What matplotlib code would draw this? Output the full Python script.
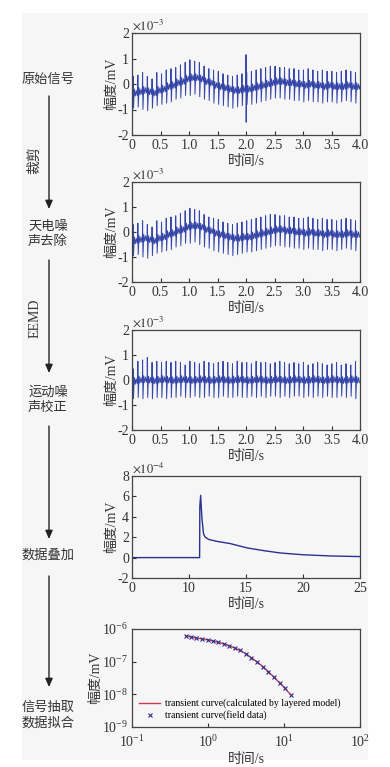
import numpy as np
import matplotlib
matplotlib.use("Agg")
import matplotlib.pyplot as plt
from matplotlib.patches import FancyArrowPatch, Rectangle

plt.rcParams['font.family'] = ['Liberation Serif', 'Noto Sans CJK SC', 'DejaVu Sans']
plt.rcParams['axes.unicode_minus'] = False
plt.rcParams['mathtext.fontset'] = 'stix'

# ---- data (amplitudes in units of 1e-3 mV for the first three panels) ----
spike_t0 = 0.02          # first spike time (s)
spike_period = 0.083     # spike spacing (s)

# raw signal: baseline, spike top, spike bottom for each spike
base1 = [-0.35, -0.30, -0.25, -0.30, -0.35, -0.25, -0.20, -0.10, -0.05, 0.05, 0.10, 0.20,
         0.25, 0.25, 0.20, 0.10, 0.05, -0.05, -0.10, -0.15, -0.20, -0.25, -0.25, -0.20,
         -0.20, -0.15, -0.10, -0.05, 0.00, 0.05, 0.10, 0.10, 0.05, 0.05, 0.00, 0.00,
         -0.05, 0.00, -0.05, -0.05, -0.10, -0.05, -0.10, -0.10, -0.10, -0.05, -0.10, -0.10]
top1 = [0.30, 0.35, 0.45, 0.30, 0.20, 0.45, 0.40, 0.55, 0.60, 0.65, 0.75, 0.85,
        0.95, 0.90, 0.85, 0.70, 0.60, 0.55, 0.50, 0.40, 0.35, 0.30, 0.35, 0.40,
        0.45, 0.50, 0.55, 0.60, 0.65, 0.70, 0.70, 0.65, 0.65, 0.60, 0.60, 0.55,
        0.55, 0.60, 0.55, 0.50, 0.55, 0.50, 0.50, 0.45, 0.50, 0.55, 0.50, 0.45]
bottom1 = [-0.95, -0.90, -1.00, -1.05, -0.95, -0.85, -0.80, -0.75, -0.70, -0.60, -0.55, -0.45,
           -0.45, -0.40, -0.50, -0.60, -0.65, -0.75, -0.80, -0.85, -0.90, -0.95, -0.90, -0.85,
           -0.80, -0.80, -0.75, -0.70, -0.65, -0.60, -0.55, -0.55, -0.60, -0.60, -0.65, -0.65,
           -0.70, -0.65, -0.70, -0.70, -0.75, -0.70, -0.70, -0.75, -0.70, -0.65, -0.70, -0.75]
sferic_t = 2.0
sferic_top = 1.15
sferic_bottom = -1.50

# motion-noise corrected signal
base3 = [-0.05, 0.00, 0.02, 0.00, -0.03, 0.00, 0.02, 0.00, -0.02, 0.00, 0.02, 0.00,
         -0.02, 0.00, 0.02, 0.00, -0.02, 0.00, 0.02, 0.00, -0.02, 0.00, 0.02, 0.00,
         -0.02, 0.00, 0.02, 0.00, -0.02, 0.00, 0.02, 0.00, -0.02, 0.00, 0.02, 0.00,
         -0.02, 0.00, 0.02, 0.00, -0.02, 0.00, 0.02, 0.00, -0.02, 0.00, 0.02, 0.00]
top3 = [0.45, 0.75, 0.80, 0.90, 0.70, 0.75, 0.70, 0.75, 0.70, 0.75, 0.70, 0.60,
        0.75, 0.70, 0.65, 0.75, 0.70, 0.65, 0.70, 0.75, 0.70, 0.65, 0.75, 0.70,
        0.70, 0.65, 0.75, 0.70, 0.70, 0.65, 0.70, 0.75, 0.70, 0.65, 0.70, 0.65,
        0.70, 0.60, 0.65, 0.70, 0.65, 0.60, 0.65, 0.70, 0.60, 0.65, 0.60, 0.75]
bottom3 = [-0.75, -0.70, -0.75, -0.70, -0.75, -0.70, -0.70, -0.75, -0.70, -0.70, -0.65, -0.70,
           -0.70, -0.65, -0.70, -0.70, -0.65, -0.70, -0.70, -0.65, -0.70, -0.70, -0.65, -0.70,
           -0.70, -0.65, -0.70, -0.65, -0.70, -0.65, -0.65, -0.70, -0.65, -0.70, -0.65, -0.65,
           -0.70, -0.65, -0.70, -0.65, -0.70, -0.65, -0.70, -0.70, -0.65, -0.70, -0.65, -0.75]

# small wiggle between spikes (fraction of period, offset)
wiggle_frac = [0.25, 0.45, 0.65, 0.85]
wiggle_off = [0.15, -0.12, 0.10, -0.10]

# stacked signal (units 1e-4 mV), x in tick-label units
stack_t = [5.0, 10.93, 10.95, 11.02, 11.14, 11.28, 11.43, 11.73, 12.46, 13.63, 15.1,
           16.57, 18.04, 20.0, 22.44, 25.0]
stack_v = [0.0, 0.0, 5.0, 6.1, 3.75, 2.3, 2.0, 1.78, 1.59, 1.37, 0.95,
           0.68, 0.45, 0.28, 0.16, 0.10]
stack_ticks = [5, 10, 15, 20, 25]
stack_ticklabels = ['0', '10', '15', '20', '25']

# transient curve
tc_t = [0.516, 0.601, 0.70, 0.83, 0.99, 1.16, 1.36, 1.61, 1.91, 2.25, 2.67, 3.14,
        3.73, 4.43, 5.27, 6.20, 7.36, 8.75, 10.3, 12.2]
tc_v = [6.14e-7, 5.73e-7, 5.33e-7, 4.97e-7, 4.64e-7, 4.33e-7, 3.94e-7, 3.51e-7, 3.05e-7,
        2.59e-7, 2.20e-7, 1.75e-7, 1.32e-7, 9.8e-8, 7.05e-8, 4.98e-8, 3.35e-8, 2.26e-8,
        1.52e-8, 9.8e-9]

step_labels = ['原始信号', '天电噪\n声去除', '运动噪\n声校正', '数据叠加', '信号抽取\n数据拟合']
step_label_y = [79, 234, 400, 555, 715]
arrow_spans = [(96, 209), (260, 373), (426, 539), (576, 687)]
arrow_notes = [('裁剪', 160), ('EEMD', 318)]


def build_trace(base, top, bottom, t_end=None, extra=None):
    tt, vv = [], []
    for k in range(len(base)):
        tk = spike_t0 + k * spike_period
        tt += [tk - 0.004, tk, tk + 0.006]
        vv += [base[k], top[k], bottom[k]]
        for f, w in zip(wiggle_frac, wiggle_off):
            tt.append(tk + f * spike_period)
            vv.append(base[k] + w)
    if extra is not None:
        et, etop, ebot = extra
        i = int(np.searchsorted(tt, et))
        tt = tt[:i] + [et - 0.002, et, et + 0.003, et + 0.006] + tt[i:]
        vv = vv[:i] + [vv[i - 1], etop, ebot, vv[i - 1]] + vv[i:]
    if t_end is not None:
        tt.append(t_end)
        vv.append(base[-1])
    return np.array(tt), np.array(vv)


W, H = 390, 767
fig = plt.figure(figsize=(W / 100, H / 100), dpi=100)
fig.patch.set_facecolor('white')
fig.add_artist(Rectangle((22 / W, 1 - 760 / H), 346 / W, 747 / H,
                         transform=fig.transFigure, facecolor='#f6f6f6',
                         edgecolor='none', zorder=-10))

line_col = '#3546a8'
tick_fs = 10


def add_axes(top_px, bottom_px):
    ax = fig.add_axes([132 / W, 1 - bottom_px / H, 228 / W, (bottom_px - top_px) / H])
    ax.set_facecolor('none')
    for s in ax.spines.values():
        s.set_color('#444444')
        s.set_linewidth(0.9)
    ax.tick_params(direction='in', length=3, width=0.8, colors='#333333',
                   labelsize=tick_fs, top=False, right=False, pad=2)
    ax.tick_params(axis='x', pad=3)
    ax.set_xlabel('时间/s', fontsize=tick_fs, color='#333333', labelpad=2)
    ax.set_ylabel('幅度/mV', fontsize=tick_fs, color='#333333', labelpad=0)
    return ax


def style_signal(ax):
    ax.set_xlim(0, 4)
    ax.set_ylim(-2, 2)
    ax.set_xticks(np.arange(0, 4.01, 0.5))
    ax.set_xticklabels(['0', '0.5', '1.0', '1.5', '2.0', '2.5', '3.0', '3.5', '4.0'])
    ax.set_yticks([-2, -1, 0, 1, 2])
    ax.text(0.0, 1.0, r'$\times10^{-3}$', transform=ax.transAxes, fontsize=9,
            color='#333333', ha='left', va='bottom')


panels = [(33, 135), (182, 282), (330, 430), (476, 578), (629, 727)]

ax1 = add_axes(*panels[0])
t, v = build_trace(base1, top1, bottom1, t_end=4.0, extra=(sferic_t, sferic_top, sferic_bottom))
ax1.plot(t, v, color=line_col, lw=0.7)
style_signal(ax1)

ax2 = add_axes(*panels[1])
t, v = build_trace(base1, top1, bottom1)
ax2.plot(t, v, color=line_col, lw=0.7)
style_signal(ax2)

ax3 = add_axes(*panels[2])
t, v = build_trace(base3, top3, bottom3)
ax3.plot(t, v, color=line_col, lw=0.7)
style_signal(ax3)

ax4 = add_axes(*panels[3])
ax4.plot(stack_t, stack_v, color='#2a3090', lw=1.0)
ax4.set_xlim(5, 25)
ax4.set_ylim(-2, 8)
ax4.set_xticks(stack_ticks)
ax4.set_xticklabels(stack_ticklabels)
ax4.set_yticks([-2, 0, 2, 4, 6, 8])
ax4.text(0.0, 1.0, r'$\times10^{-4}$', transform=ax4.transAxes, fontsize=9,
         color='#333333', ha='left', va='bottom')

ax5 = add_axes(*panels[4])
ax5.set_xscale('log')
ax5.set_yscale('log')
ax5.plot(tc_t, tc_v, color='#d0364f', lw=1.0,
         label='transient curve(calculated by layered model)')
ax5.plot(tc_t, tc_v, ls='none', marker='x', ms=2.5, mew=0.8, color='#2a3090',
         label='transient curve(field data)')
ax5.set_xlim(1e-1, 1e2)
ax5.set_ylim(1e-9, 1e-6)
ax5.set_xticks([1e-1, 1e0, 1e1, 1e2])
ax5.set_yticks([1e-9, 1e-8, 1e-7, 1e-6])
ax5.minorticks_off()
ax5.tick_params(axis='x', pad=5)
ax5.tick_params(axis='y', pad=3)
ax5.legend(loc='lower left', frameon=False, fontsize=7, handlelength=2.2,
           borderaxespad=0.3, labelspacing=0.2, handletextpad=0.5)

# workflow labels and arrows on the left
for lab, y in zip(step_labels, step_label_y):
    fig.text(48 / W, 1 - y / H, lab, ha='center', va='center', fontsize=9.5,
             family='Noto Sans CJK SC', color='#333333', linespacing=1.25)
for y0, y1 in arrow_spans:
    fig.add_artist(FancyArrowPatch((49 / W, 1 - y0 / H), (49 / W, 1 - y1 / H),
                                   transform=fig.transFigure, arrowstyle='-|>,head_length=5,head_width=2.2',
                                   color='#222222', lw=1.0, shrinkA=0, shrinkB=0))
for note, y in arrow_notes:
    fig.text(35 / W, 1 - y / H, note, ha='center', va='center', rotation=90,
             fontsize=10, color='#333333')

fig.savefig('out.png', dpi=100, facecolor=fig.get_facecolor())
